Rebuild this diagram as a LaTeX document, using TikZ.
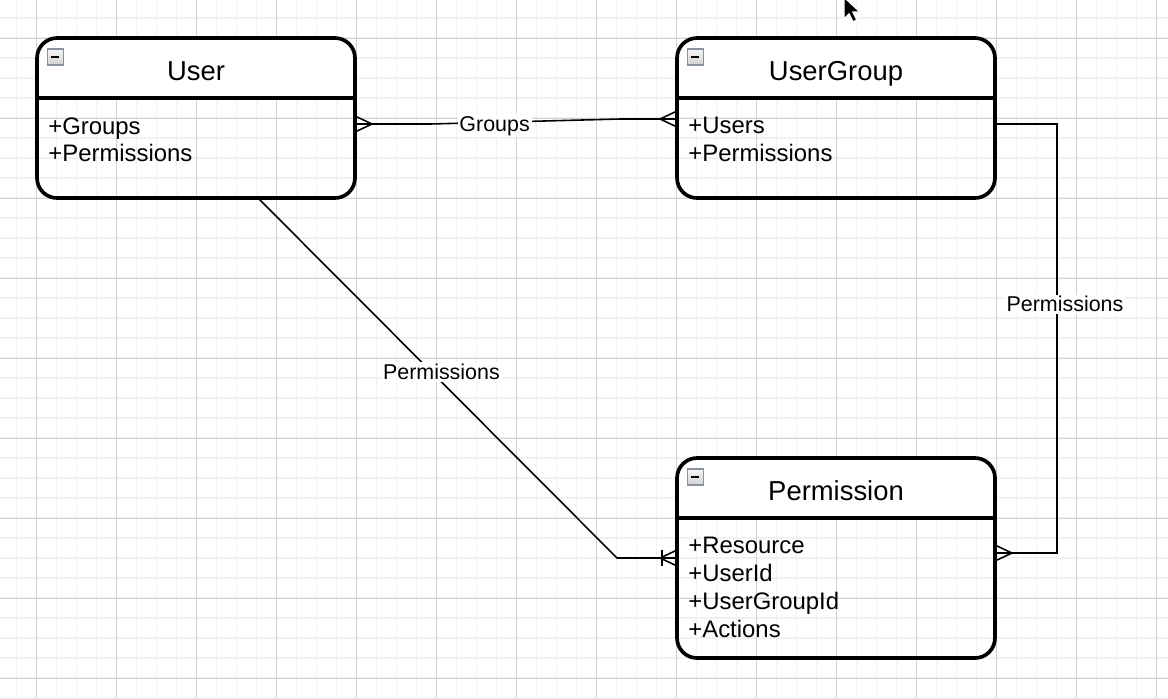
\documentclass[tikz,border=0pt]{standalone}
\usepackage{fontspec}
\setmainfont{Liberation Sans}
\usetikzlibrary{calc}
\definecolor{minorgrid}{HTML}{F1F1F1}
\definecolor{majorgrid}{HTML}{D2D2D2}
\definecolor{iconedge}{HTML}{8A92A0}
\begin{document}
\begin{tikzpicture}
[x=0.02cm,y=-0.02cm,
  entitydecorate/.style={shape=rectangle,draw,line width=2.1pt,rounded corners=0.4cm,
    minimum width=6.36cm,inner sep=0pt,outer sep=0pt,
    path picture={\fill[white] (path picture bounding box.north west) rectangle ([yshift=-1.2cm]path picture bounding box.north east);
      \draw[line width=2.1pt] ([yshift=-1.2cm]path picture bounding box.north west) -- ([yshift=-1.2cm]path picture bounding box.north east);}},
  titledecorate/.style={anchor=base,font=\fontsize{15.6}{18}\selectfont},
  fielddecorate/.style={anchor=north west,align=left,inner sep=0pt,font=\fontsize{13.6}{15.9}\selectfont},
  labeldecorate/.style={fill=white,inner sep=1pt,font=\fontsize{12.2}{14}\selectfont},
  icondecorate/.style={draw=iconedge,line width=0.6pt,top color=gray!8,bottom color=gray!35},
  linedecorate/.style={-,line width=0.9pt},
  crowfoot/.pic={\draw[linedecorate] (0,-8) -- (17,0) -- (0,8);}]
\useasboundingbox (0,0) rectangle (1168,698);
%% grid
\fill[white] (0,0) rectangle (1168,698);
\foreach \x in {16.5,36.5,...,1168} \draw[minorgrid,line width=1.1pt] (\x,0) -- (\x,698);
\foreach \y in {18,38,...,698} \draw[minorgrid,line width=1.1pt] (0,\y) -- (1168,\y);
\foreach \x in {36.5,116.5,...,1168} \draw[majorgrid,line width=0.5pt] (\x,0) -- (\x,698);
\foreach \y in {38,118,...,698} \draw[majorgrid,line width=0.5pt] (0,\y) -- (1168,\y);
%% entities
\foreach \nodename/\x/\y/\h/\title/\fields in {user/196/118/160/User/{+Groups\\+Permissions},
    ug/836/118/160/UserGroup/{+Users\\+Permissions},
    perm/836/558/200/Permission/{+Resource\\+UserId\\+UserGroupId\\+Actions}} {
  \node (\nodename) at (\x,\y) [entitydecorate,minimum height=\h*0.02cm] {};
  \node[titledecorate] at ($(\nodename.north)+(0,42)$) {\title};
  \node[fielddecorate] at ($(\nodename.north west)+(11,79)$) {\fields};
  \draw[icondecorate] ($(\nodename.north west)+(10,11)$) rectangle ++(16,16);
  \draw[line width=1.2pt] ($(\nodename.north west)+(14,19)$) -- ++(8,0);
}
%% relations
\draw[linedecorate] ($(user.east)+(0,6)$) -- ++(75,0) -- ($(ug.west)+(-57,1)$)
  node[labeldecorate,pos=0.34,yshift=-0.07cm] {Groups} -- ($(ug.west)+(0,1)$);
\draw[linedecorate] ($(user.south)+(62,0)$) -- ($(perm.west)+(-60,0)$)
  node[labeldecorate,pos=0.483,xshift=0.2cm] {Permissions} -- (perm.west);
\draw[linedecorate] ($(ug.east)+(0,6)$) -| ($(perm.east)+(62,-5)$)
  node[labeldecorate,pos=0.71,xshift=0.16cm] {Permissions} -- ($(perm.east)+(0,-5)$);
%% ends
\pic at ($(user.east)+(0,6)$) {crowfoot};
\pic[rotate=180] at ($(ug.west)+(0,1)$) {crowfoot};
\pic[rotate=180] at (perm.west) {crowfoot};
\draw[linedecorate] ($(perm.west)+(-15,-8)$) -- ++(0,16);
\pic at ($(perm.east)+(0,-5)$) {crowfoot};
%% pointer
\fill[black,draw=white,line width=0.8pt] (844,-3) -- ++(0,22) -- ++(5,-5) -- ++(4,8)
  -- ++(4,-2) -- ++(-4,-8) -- ++(7,0) -- cycle;
\end{tikzpicture}
\end{document}
